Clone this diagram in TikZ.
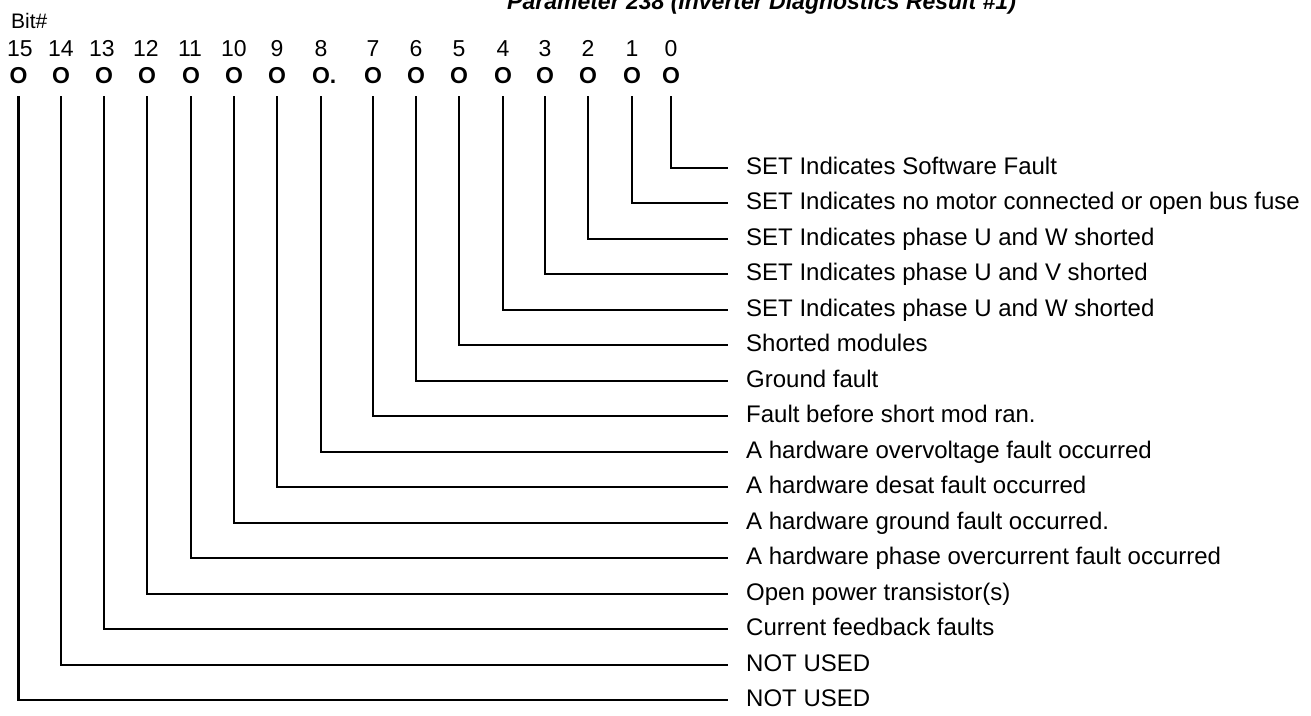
\documentclass[tikz,border=0pt]{standalone}
\usepackage{fontspec}
\setmainfont{Liberation Sans}
\begin{document}
\begin{tikzpicture}[x=1pt,y=-1pt,
  conn/.style={line width=2.4pt, line join=miter, shorten <=13pt},
  lbl/.style={anchor=base west, inner sep=0pt, font=\fontsize{24}{28}\selectfont},
  num/.style={anchor=base, inner sep=0pt, font=\fontsize{23}{26}\selectfont},
  bitO/.style={anchor=base, inner sep=0pt, font=\fontsize{23}{26}\selectfont\bfseries}]
\useasboundingbox (0,0) rectangle (1311,715);
\fill[white] (0,0) rectangle (1311,715);
\node[anchor=base west, inner sep=0pt, font=\fontsize{23}{27}\selectfont\bfseries\itshape] (title) at (507,9.5) {Parameter 238 (Inverter Diagnostics Result \#1)};
\node[num, anchor=base west, font=\fontsize{21}{24}\selectfont] (bitlabel) at (11,28) {Bit\#};
\foreach \b/\x/\o in {15/20/O, 14/61/O, 13/102/O, 12/146/O, 11/190/O, 10/234/O, 9/277/O, 8/321/{O\rlap{.}}, 7/373/O, 6/416/O, 5/459/O, 4/503/O, 3/545/O, 2/588/O, 1/632/O, 0/671/O} {
  \node[num] (n\b) at (\x,56) {\b};
}
\foreach \b/\x/\o in {15/18.5/O, 14/61/O, 13/104/O, 12/147/O, 11/191/O, 10/234/O, 9/277/O, 8/321/{O\rlap{.}}, 7/373/O, 6/416/O, 5/459/O, 4/503/O, 3/545/O, 2/588/O, 1/632/O, 0/671/O} {
  \node[bitO] (o\b) at (\x,83) {\o};
}
\foreach \b/\t in {0/{SET Indicates Software Fault},
  1/{SET Indicates no motor connected or open bus fuse},
  2/{SET Indicates phase U and W shorted},
  3/{SET Indicates phase U and V shorted},
  4/{SET Indicates phase U and W shorted},
  5/{Shorted modules},
  6/{Ground fault},
  7/{Fault before short mod ran.},
  8/{A hardware overvoltage fault occurred},
  9/{A hardware desat fault occurred},
  10/{A hardware ground fault occurred.},
  11/{A hardware phase overcurrent fault occurred},
  12/{Open power transistor(s)},
  13/{Current feedback faults},
  14/{NOT USED},
  15/{NOT USED}} {
  \pgfmathsetmacro\yy{167.7+35.5*\b}
  \coordinate (e\b) at (728,\yy);
  \node[lbl] (l\b) at (746,\yy+6.5) {\t};
  \draw[conn] (o\b.south) |- (e\b);
}
\end{tikzpicture}
\end{document}
